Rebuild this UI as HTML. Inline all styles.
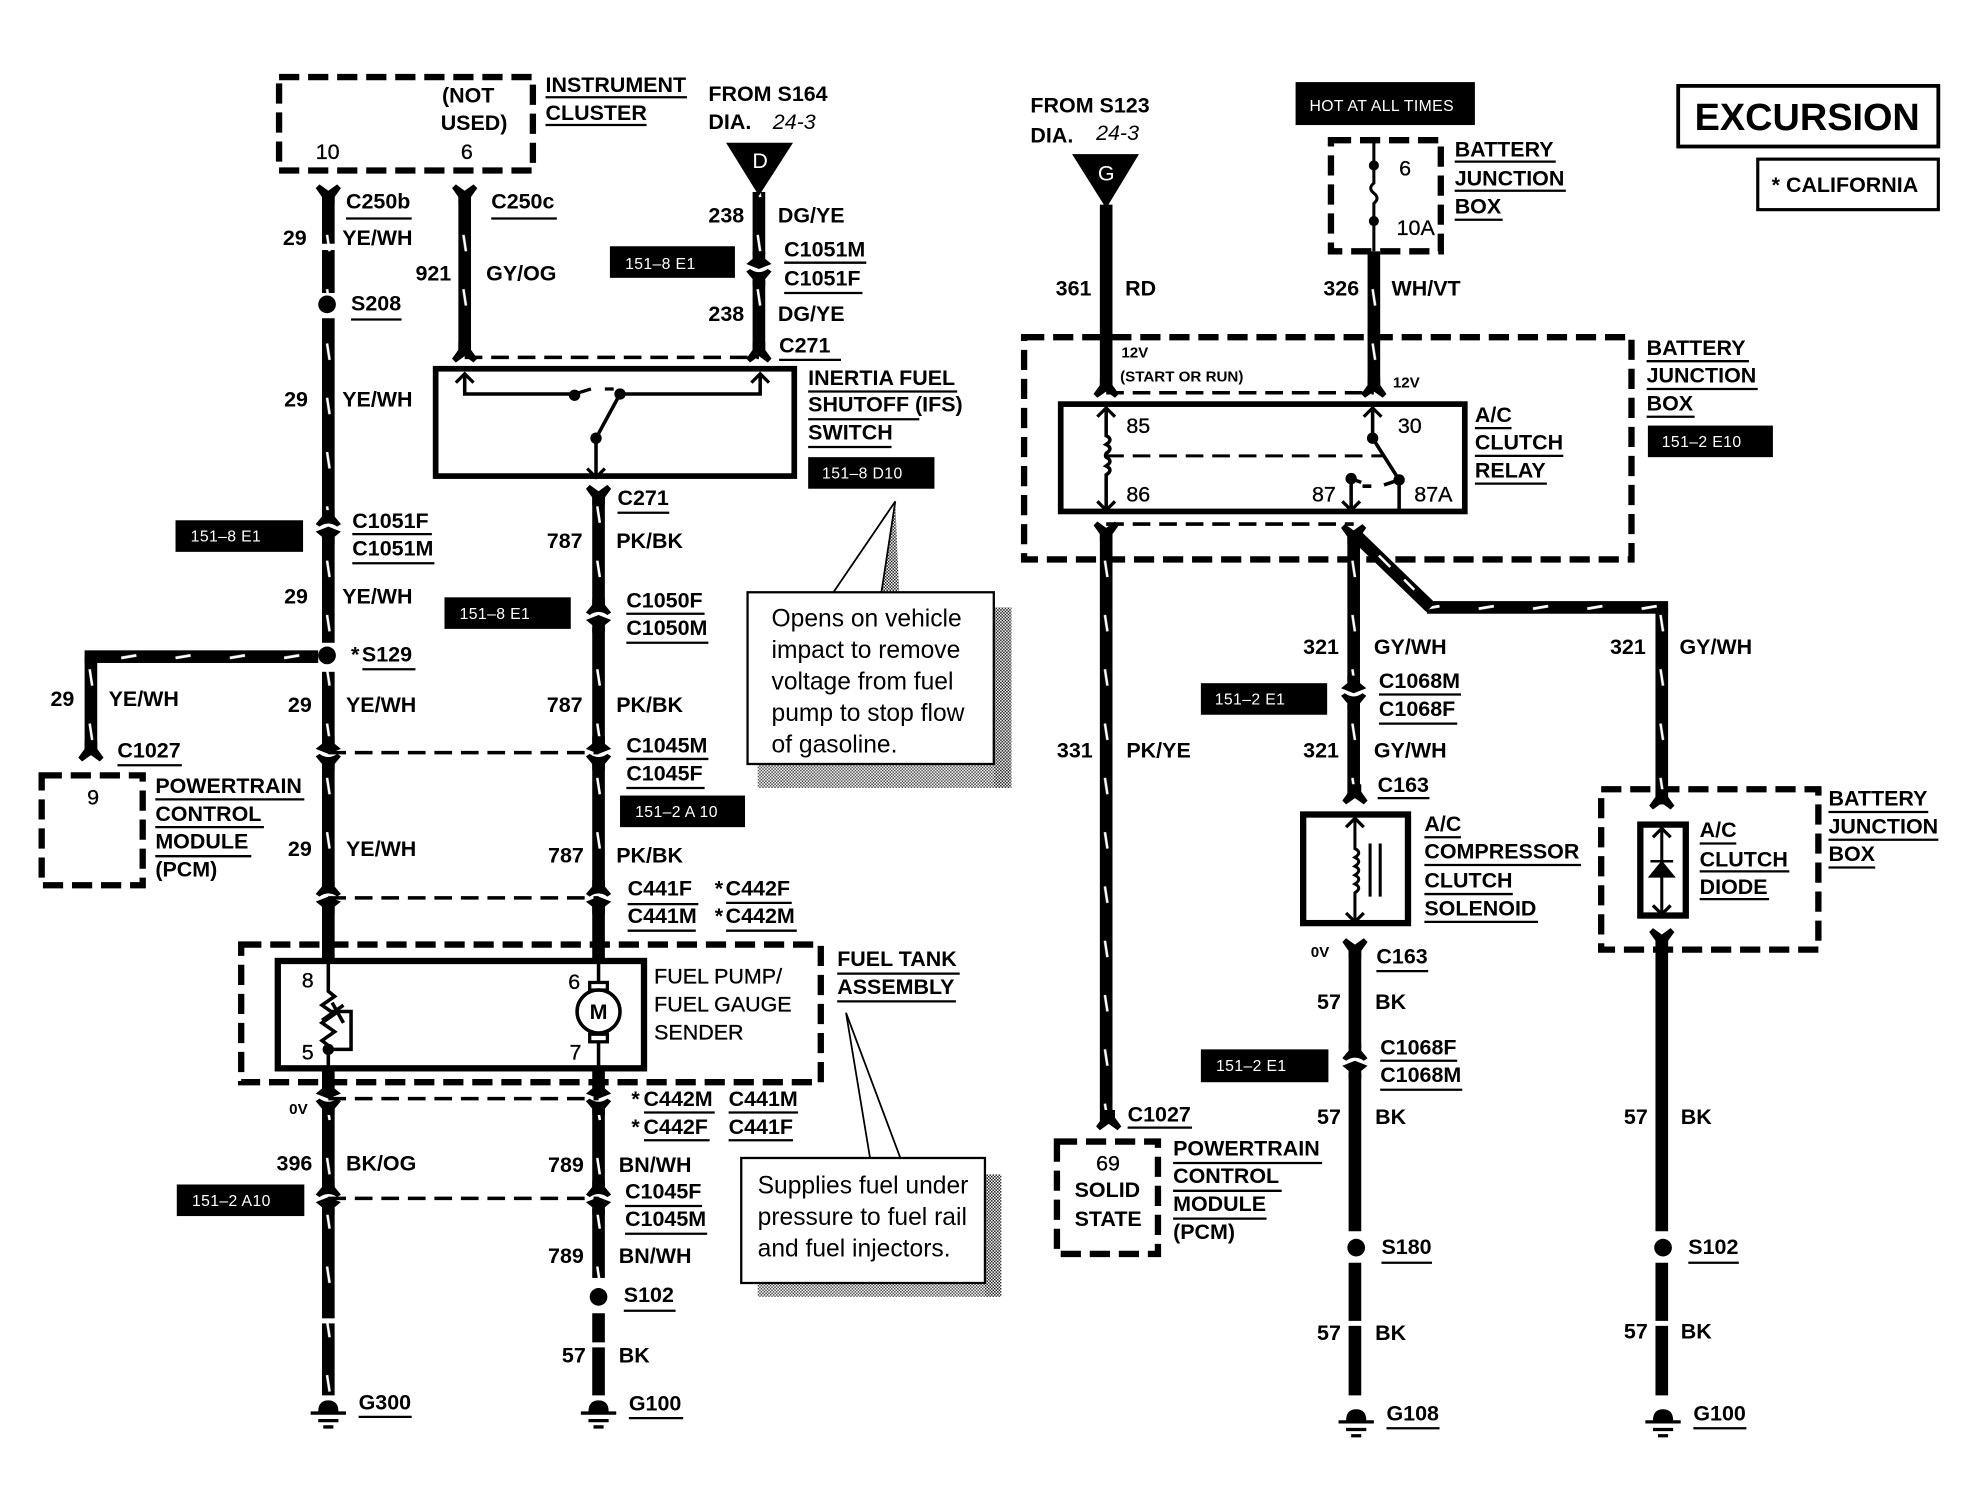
<!DOCTYPE html>
<html><head><meta charset="utf-8"><title>Fuel pump and A/C clutch wiring diagram</title>
<style>
html,body{margin:0;padding:0;background:#fff}
svg{display:block}
text{font-family:"Liberation Sans",sans-serif;font-weight:bold;font-size:17px;fill:#000}
.r{font-weight:normal;stroke:#000;stroke-width:.25px}
.c{font-weight:normal;font-size:19.5px}
.w{font-weight:normal;font-size:12.5px;fill:#fff;letter-spacing:.3px}
.s{font-size:12px}
</style></head><body>
<svg width="1980" height="1504" viewBox="0 0 1568 1191" xmlns="http://www.w3.org/2000/svg">
<defs>
<pattern id="wv" patternUnits="userSpaceOnUse" x="-5" y="8" width="10" height="43">
<rect x="0" y="0" width="10" height="43" fill="#000"/>
<path d="M4 6L6 19" stroke="#fff" stroke-width="2" fill="none"/>
</pattern>
<pattern id="wh" patternUnits="userSpaceOnUse" x="0" y="-5" width="43" height="10">
<rect x="0" y="0" width="43" height="10" fill="#000"/>
<path d="M10 6L22 4" stroke="#fff" stroke-width="2.2" fill="none"/>
</pattern>
<pattern id="dith" patternUnits="userSpaceOnUse" width="2.4" height="2.4">
<rect width="2.4" height="2.4" fill="#fff"/>
<rect width="1.2" height="1.2" fill="#222"/>
<rect x="1.2" y="1.2" width="1.2" height="1.2" fill="#222"/>
</pattern>
<path id="c" d="M-5 -13H5V-7L10 -3L0 1L-10 -3L-5 -7ZM-10 3L-7 1Q0 6 7 1L10 3L5 9V14H-5V9Z"/>
<path id="y" d="M-5 8V2L-10 -5L-7 -8L0 -3L7 -8L10 -5L5 2V8Z"/>
<path id="a" d="M-7 6L0 -1L7 6" fill="none" stroke="#000" stroke-width="2.6"/>
<g id="g"><path d="M-8 0Q-8 -9 0 -9Q8 -9 8 0Z"/><path d="M-14 1H14M-8 7H8M-4 12H4" stroke="#000" stroke-width="2.6"/></g>
</defs>
<rect width="1568" height="1191" fill="#fff"/>

<!-- callout shadows -->
<g fill="url(#dith)">
<rect x="787" y="481" width="14" height="143"/>
<rect x="600" y="605" width="187" height="19" opacity=".8"/>
<rect x="780" y="930" width="13" height="97"/>
<rect x="600" y="1016" width="180" height="11" opacity=".8"/>
<path d="M709 397L712 468H698Z"/>
</g>

<!-- dashed boxes -->
<g fill="none" stroke="#000" stroke-width="5" stroke-dasharray="16 7">
<path d="M221 61H422V135H221Z"/>
<path d="M33 614H113V701H33Z"/>
<path d="M191 748H650V857H191Z"/>
<path d="M1054 111H1141V199H1054Z"/>
<path d="M811 267H1292V443H811Z"/>
<path d="M837 904H917V993H837Z"/>
<path d="M1268 625H1440V752H1268Z"/>
</g>
<!-- connector dashes -->
<g fill="none" stroke="#000" stroke-width="2.8" stroke-dasharray="14 7">
<path d="M368 283H601M260 596H474M260 711H474M260 870H474M260 949H474M876 311H1088M876 415H1072"/>
<path d="M876 361H1095" stroke-width="2.4"/>
</g>

<!-- wires with tracer -->
<g fill="url(#wv)">
<rect transform="translate(260 0)" x="-5" y="152" width="10" height="41"/>
<rect transform="translate(260 0)" x="-5" y="198" width="10" height="34"/>
<rect transform="translate(260 0)" x="-5" y="252" width="10" height="160"/>
<rect transform="translate(260 0)" x="-5" y="425" width="10" height="84"/>
<rect transform="translate(260 0)" x="-5" y="532" width="10" height="58"/>
<rect transform="translate(260 0)" x="-5" y="604" width="10" height="102"/>
<rect transform="translate(260 0)" x="-5" y="878" width="10" height="66"/>
<rect transform="translate(260 0)" x="-5" y="957" width="10" height="87"/>
<rect transform="translate(260 0)" x="-5" y="1048" width="10" height="57"/>
<rect transform="translate(368 0)" x="-5" y="152" width="10" height="130"/>
<rect transform="translate(601 0)" x="-5" y="152" width="10" height="50"/>
<rect transform="translate(601 0)" x="-5" y="222" width="10" height="60"/>
<rect transform="translate(474 0)" x="-5" y="390" width="10" height="90"/>
<rect transform="translate(474 0)" x="-5" y="497" width="10" height="92"/>
<rect transform="translate(474 0)" x="-5" y="604" width="10" height="102"/>
<rect transform="translate(474 0)" x="-5" y="878" width="10" height="66"/>
<rect transform="translate(474 0)" x="-5" y="957" width="10" height="55"/>
<rect transform="translate(72 0)" x="-5" y="520" width="10" height="78"/>
<rect transform="translate(1088 0)" x="-5" y="199" width="10" height="110"/>
<rect transform="translate(876 0)" x="-5" y="418" width="10" height="472"/>
<rect transform="translate(1072 0)" x="-5" y="420" width="10" height="120"/>
<rect transform="translate(1072 0)" x="-5" y="558" width="10" height="74"/>
<rect transform="translate(1316 0)" x="-5" y="481" width="10" height="156"/>
</g>
<g fill="url(#wh)">
<rect transform="translate(0 520)" x="67" y="-5" width="185" height="10"/>
<rect transform="translate(0 481)" x="1130" y="-5" width="191" height="10"/>
</g>
<path d="M1074 424L1133 481" stroke="#000" stroke-width="10" fill="none"/>
<path d="M1092 440L1101 449M1112 459L1120 467" stroke="#fff" stroke-width="2" fill="none"/>

<!-- plain black wires -->
<g stroke="#000" stroke-width="10" fill="none">
<path d="M260 716V760M474 716V760M260 846V860M474 846V860"/>
<path d="M876 162V310"/>
<path d="M1073 750V830M1073 850V975M1073 1000V1046M1073 1050V1105"/>
<path d="M1316 742V975M1316 1000V1046M1316 1050V1105"/>
<path d="M474 1040V1063M474 1067V1105"/>
</g>

<!-- triangles -->
<path d="M575 113H628L601 155Z"/>
<path d="M849 122H902L876 165Z"/>
<text x="602" y="133" text-anchor="middle" class="r" style="fill:#fff;stroke:none">D</text>
<text x="876" y="143" text-anchor="middle" class="r" style="fill:#fff;stroke:none">G</text>

<!-- connectors -->
<use href="#c" transform="translate(601 212)"/>
<use href="#c" transform="translate(260 418) scale(1 -1)"/>
<use href="#c" transform="translate(474 488) scale(1 -1)"/>
<use href="#c" transform="translate(260 596)"/>
<use href="#c" transform="translate(474 596)"/>
<use href="#c" transform="translate(260 711) scale(1 -1)"/>
<use href="#c" transform="translate(474 711) scale(1 -1)"/>
<use href="#c" transform="translate(260 869)"/>
<use href="#c" transform="translate(474 869)"/>
<use href="#c" transform="translate(260 949) scale(1 -1)"/>
<use href="#c" transform="translate(474 949) scale(1 -1)"/>
<use href="#c" transform="translate(1072 548)"/>
<use href="#c" transform="translate(1073 841) scale(1 -1)"/>
<use href="#y" transform="translate(260 154)"/>
<use href="#y" transform="translate(368 154)"/>
<use href="#y" transform="translate(474 392)"/>
<use href="#y" transform="translate(876 421)"/>
<use href="#y" transform="translate(1072 423)"/>
<use href="#y" transform="translate(1073 751)"/>
<use href="#y" transform="translate(1316 743)"/>
<use href="#y" transform="translate(368 279) scale(1 -1)"/>
<use href="#y" transform="translate(601 279) scale(1 -1)"/>
<use href="#y" transform="translate(72 595) scale(1 -1)"/>
<use href="#y" transform="translate(876 307) scale(1 -1)"/>
<use href="#y" transform="translate(1088 307) scale(1 -1)"/>
<use href="#y" transform="translate(878 887) scale(1 -1)"/>
<use href="#y" transform="translate(1073 629) scale(1 -1)"/>
<use href="#y" transform="translate(1316 633) scale(1 -1)"/>

<!-- splices -->
<circle cx="259" cy="241" r="7"/><circle cx="259" cy="519" r="7"/>
<circle cx="474" cy="1027" r="7"/><circle cx="1074" cy="988" r="7"/><circle cx="1317" cy="988" r="7"/>

<!-- grounds -->
<use href="#g" transform="translate(260 1118)"/>
<use href="#g" transform="translate(474 1118)"/>
<use href="#g" transform="translate(1074 1125)"/>
<use href="#g" transform="translate(1317 1125)"/>

<!-- solid boxes -->
<g fill="none" stroke="#000">
<rect x="345" y="292" width="284" height="85" stroke-width="4.5"/>
<rect x="840" y="320" width="320" height="85" stroke-width="4.5"/>
<rect x="220" y="761" width="290" height="85" stroke-width="5"/>
<rect x="1032" y="645" width="83" height="86" stroke-width="5"/>
<rect x="1299" y="653" width="36" height="72" stroke-width="5"/>
<rect x="1329" y="68" width="206" height="48" stroke-width="3"/>
<rect x="1392" y="126" width="143" height="40" stroke-width="2.5"/>
</g>

<!-- internals -->
<g fill="none" stroke="#000" stroke-width="2.8">
<path d="M368 296V312H455M491 312H602V296M491 312L472 347V377"/>
<path d="M455 312L468 308M479 308H486" stroke-width="2.6"/>
<path d="M876 323V345q6 3 0 7q6 3 0 7q-1 2 0 3q6 3 0 7q6 3 0 7V403"/>
<path d="M1087 323V347L1108 380V405M1108 380L1096 384M1086 385H1079M1070 379V403M1070 379L1078 382"/>
<path d="M260 760V785l5 4l-10 7l10 7l-10 7l10 7l-10 7l5 4V846M263 794L272 810M255 808L272 796M262 801H278V831H260"/>
<path d="M474 760V778M474 825V846"/>
<circle cx="474" cy="801" r="17"/>
<rect x="467" y="778" width="14" height="6" stroke-width="2.6"/>
<rect x="467" y="819" width="14" height="6" stroke-width="2.6"/>
<path d="M1073 648V672q6 3 0 7q6 3 0 7q6 3 0 7q6 3 0 7q6 3 0 7V728M1085 668V710M1093 668V710" stroke-width="2.4"/>
<path d="M1316 657V723" stroke-width="2.4"/>
<path d="M1088 111V131M1088 131V145q-5 4 0 8q5 4 0 8V175M1088 175V199" stroke-width="2.4"/>
</g>
<path d="M1307 694L1316 683L1325 694ZM1307 682H1325" stroke="#000" stroke-width="2"/>
<circle cx="455" cy="313" r="4.5"/><circle cx="491" cy="312" r="4.5"/><circle cx="472" cy="347" r="4.5"/>
<circle cx="1087" cy="347" r="4.5"/><circle cx="1108" cy="380" r="4.5"/><circle cx="1070" cy="379" r="4.5"/>
<circle cx="260" cy="831" r="4.5"/><circle cx="1088" cy="131" r="4"/><circle cx="1088" cy="175" r="4"/>
<use href="#a" transform="translate(368 297)"/>
<use href="#a" transform="translate(602 297)"/>
<use href="#a" transform="translate(472 377) scale(1 -1)"/>
<use href="#a" transform="translate(876 324)"/>
<use href="#a" transform="translate(1087 324)"/>
<use href="#a" transform="translate(876 403) scale(1 -1)"/>
<use href="#a" transform="translate(1070 403) scale(1 -1)"/>
<use href="#a" transform="translate(1073 649)"/>
<use href="#a" transform="translate(1073 729) scale(1 -1)"/>
<use href="#a" transform="translate(1316 657)"/>
<use href="#a" transform="translate(1316 723) scale(1 -1)"/>

<!-- black labels -->
<g>
<rect x="483" y="195" width="99" height="25"/><rect x="640" y="362" width="100" height="25"/>
<rect x="139" y="412" width="101" height="25"/><rect x="352" y="473" width="100" height="25"/>
<rect x="491" y="630" width="99" height="25"/><rect x="140" y="938" width="101" height="25"/>
<rect x="1026" y="65" width="142" height="34"/><rect x="1305" y="337" width="99" height="25"/>
<rect x="951" y="541" width="100" height="25"/><rect x="951" y="831" width="101" height="26"/>
</g>
<text class="w" x="495" y="213">151–8 E1</text>
<text class="w" x="651" y="379">151–8 D10</text>
<text class="w" x="151" y="429">151–8 E1</text>
<text class="w" x="364" y="490">151–8 E1</text>
<text class="w" x="503" y="647">151–2 A 10</text>
<text class="w" x="152" y="955">151–2 A10</text>
<text class="w" x="1037" y="88">HOT AT ALL TIMES</text>
<text class="w" x="1316" y="354">151–2 E10</text>
<text class="w" x="962" y="558">151–2 E1</text>
<text class="w" x="963" y="848">151–2 E1</text>

<!-- callouts -->
<path d="M660 469L709 397L698 469" fill="none" stroke="#000" stroke-width="1.4"/>
<rect x="592" y="469" width="195" height="136" fill="#fff" stroke="#000" stroke-width="1.8"/>
<text class="c" x="611" y="496">Opens on vehicle</text>
<text class="c" x="611" y="521">impact to remove</text>
<text class="c" x="611" y="546">voltage from fuel</text>
<text class="c" x="611" y="571">pump to stop flow</text>
<text class="c" x="611" y="596">of gasoline.</text>
<path d="M689 917L670 802L713 917" fill="none" stroke="#000" stroke-width="1.4"/>
<rect x="587" y="917" width="193" height="99" fill="#fff" stroke="#000" stroke-width="1.8"/>
<text class="c" x="600" y="945">Supplies fuel under</text>
<text class="c" x="600" y="970">pressure to fuel rail</text>
<text class="c" x="600" y="995">and fuel injectors.</text>

<!-- underlines -->
<path fill="none" stroke="#000" stroke-width="1.8" d="M432 77H544M432 99H512M274 173H326M389 173H441M621 208H686M621 232H683M617 285H666M278 253H318M640 310H758M640 332H728M640 354H706M489 406H530M279 423H342M279 446H344M496 486H558M496 509H561M287 530H329M496 601H561M496 624H558M93 606H144M123 633H241M123 655H209M123 678H199M497 716H553M497 737H551M575 715H627M575 737H631M663 771H760M663 793H757M510 881H566M577 881H632M510 903H562M577 903H628M495 955H556M495 977H560M494 1038H535M284 1122H326M498 1123H541M1152 128H1232M1152 151H1240M1152 174H1190M1304 286H1385M1304 308H1392M1304 330H1342M1168 339H1197M1168 361H1238M1168 383H1225M1092 550H1157M1092 573H1154M1091 632H1132M1128 663H1157M1128 685H1252M1128 708H1198M1128 730H1218M1448 643H1527M1448 665H1535M1448 687H1485M1346 668H1375M1346 690H1417M1346 712H1401M1090 769H1131M1093 840H1154M1093 863H1158M893 893H944M929 921H1047M929 943H1015M929 965H1003M1094 1000H1134M1337 1000H1377M1098 1131H1140M1341 1131H1383"/>

<!-- labels left -->
<text x="350" y="81">(NOT</text><text x="349" y="103">USED)</text>
<text x="250" y="126" class="r">10</text><text x="365" y="126" class="r">6</text>
<text x="432" y="73">INSTRUMENT</text><text x="432" y="95">CLUSTER</text>
<text x="561" y="80">FROM S164</text><text x="561" y="102">DIA.</text>
<text x="612" y="102" style="font-style:italic;font-weight:normal">24-3</text>
<text x="274" y="165">C250b</text><text x="389" y="165">C250c</text>
<text x="224" y="194">29</text><text x="271" y="194">YE/WH</text>
<text x="329" y="222">921</text><text x="385" y="222">GY/OG</text>
<text x="561" y="176">238</text><text x="616" y="176">DG/YE</text>
<text x="621" y="203">C1051M</text><text x="621" y="226">C1051F</text>
<text x="561" y="254">238</text><text x="616" y="254">DG/YE</text>
<text x="617" y="279">C271</text>
<text x="278" y="246">S208</text>
<text x="225" y="322">29</text><text x="271" y="322">YE/WH</text>
<text x="640" y="305">INERTIA FUEL</text><text x="640" y="326">SHUTOFF (IFS)</text><text x="640" y="348">SWITCH</text>
<text x="489" y="400">C271</text>
<text x="433" y="434">787</text><text x="488" y="434">PK/BK</text>
<text x="279" y="418">C1051F</text><text x="279" y="440">C1051M</text>
<text x="225" y="478">29</text><text x="271" y="478">YE/WH</text>
<text x="496" y="481">C1050F</text><text x="496" y="503">C1050M</text>
<text x="278" y="524">*<tspan dx="2">S129</tspan></text>
<text x="40" y="559">29</text><text x="86" y="559">YE/WH</text>
<text x="228" y="564">29</text><text x="274" y="564">YE/WH</text>
<text x="433" y="564">787</text><text x="488" y="564">PK/BK</text>
<text x="496" y="596">C1045M</text><text x="496" y="618">C1045F</text>
<text x="93" y="600">C1027</text><text x="69" y="637" class="r">9</text>
<text x="123" y="628">POWERTRAIN</text><text x="123" y="650">CONTROL</text><text x="123" y="672">MODULE</text><text x="123" y="694">(PCM)</text>
<text x="228" y="678">29</text><text x="274" y="678">YE/WH</text>
<text x="434" y="683">787</text><text x="488" y="683">PK/BK</text>
<text x="497" y="709">C441F</text><text x="497" y="731">C441M</text>
<text x="566" y="709">*<tspan dx="2">C442F</tspan></text><text x="566" y="731">*<tspan dx="2">C442M</tspan></text>
<text x="239" y="782" class="r">8</text><text x="239" y="839" class="r">5</text>
<text x="450" y="783" class="r">6</text><text x="451" y="839" class="r">7</text>
<text x="474" y="807" text-anchor="middle">M</text>
<text x="518" y="779" class="r">FUEL PUMP/</text><text x="518" y="801" class="r">FUEL GAUGE</text><text x="518" y="823" class="r">SENDER</text>
<text x="663" y="765">FUEL TANK</text><text x="663" y="787">ASSEMBLY</text>
<text x="229" y="882" class="s">0V</text>
<text x="500" y="876">*<tspan dx="3">C442M</tspan></text><text x="577" y="876">C441M</text>
<text x="500" y="898">*<tspan dx="3">C442F</tspan></text><text x="577" y="898">C441F</text>
<text x="219" y="927">396</text><text x="274" y="927">BK/OG</text>
<text x="434" y="928">789</text><text x="490" y="928">BN/WH</text>
<text x="495" y="949">C1045F</text><text x="495" y="971">C1045M</text>
<text x="434" y="1000">789</text><text x="490" y="1000">BN/WH</text>
<text x="494" y="1031">S102</text>
<text x="445" y="1079">57</text><text x="490" y="1079">BK</text>
<text x="284" y="1116">G300</text><text x="498" y="1117">G100</text>

<!-- labels right -->
<text x="816" y="89">FROM S123</text><text x="816" y="113">DIA.</text>
<text x="868" y="111" style="font-style:italic;font-weight:normal">24-3</text>
<text x="1108" y="139" class="r">6</text><text x="1106" y="186" class="r">10A</text>
<text x="1152" y="124">BATTERY</text><text x="1152" y="147">JUNCTION</text><text x="1152" y="169">BOX</text>
<text x="1342" y="103" style="font-size:30px">EXCURSION</text>
<text x="1403" y="152">* CALIFORNIA</text>
<text x="836" y="234">361</text><text x="891" y="234">RD</text>
<text x="1048" y="234">326</text><text x="1102" y="234">WH/VT</text>
<text x="888" y="283" class="s">12V</text><text x="887" y="302" class="s">(START OR RUN)</text><text x="1103" y="307" class="s">12V</text>
<text x="892" y="343" class="r">85</text><text x="1107" y="343" class="r">30</text>
<text x="892" y="397" class="r">86</text><text x="1039" y="397" class="r">87</text><text x="1120" y="397" class="r">87A</text>
<text x="1304" y="281">BATTERY</text><text x="1304" y="303">JUNCTION</text><text x="1304" y="325">BOX</text>
<text x="1168" y="334">A/C</text><text x="1168" y="356">CLUTCH</text><text x="1168" y="378">RELAY</text>
<text x="1032" y="518">321</text><text x="1088" y="518">GY/WH</text>
<text x="1275" y="518">321</text><text x="1330" y="518">GY/WH</text>
<text x="1092" y="545">C1068M</text><text x="1092" y="567">C1068F</text>
<text x="837" y="600">331</text><text x="892" y="600">PK/YE</text>
<text x="1032" y="600">321</text><text x="1088" y="600">GY/WH</text>
<text x="1091" y="627">C163</text>
<text x="1128" y="658">A/C</text><text x="1128" y="680">COMPRESSOR</text><text x="1128" y="703">CLUTCH</text><text x="1128" y="725">SOLENOID</text>
<text x="1448" y="638">BATTERY</text><text x="1448" y="660">JUNCTION</text><text x="1448" y="682">BOX</text>
<text x="1346" y="663">A/C</text><text x="1346" y="686">CLUTCH</text><text x="1346" y="708">DIODE</text>
<text x="1038" y="758" class="s">0V</text><text x="1090" y="763">C163</text>
<text x="1043" y="799">57</text><text x="1089" y="799">BK</text>
<text x="1093" y="835">C1068F</text><text x="1093" y="857">C1068M</text>
<text x="1043" y="890">57</text><text x="1089" y="890">BK</text>
<text x="1286" y="890">57</text><text x="1331" y="890">BK</text>
<text x="893" y="888">C1027</text>
<text x="868" y="927" class="r">69</text><text x="851" y="948">SOLID</text><text x="851" y="971">STATE</text>
<text x="929" y="915">POWERTRAIN</text><text x="929" y="937">CONTROL</text><text x="929" y="959">MODULE</text><text x="929" y="981">(PCM)</text>
<text x="1094" y="993">S180</text><text x="1337" y="993">S102</text>
<text x="1043" y="1061">57</text><text x="1089" y="1061">BK</text>
<text x="1286" y="1060">57</text><text x="1331" y="1060">BK</text>
<text x="1098" y="1125">G108</text><text x="1341" y="1125">G100</text>
</svg>
</body></html>
